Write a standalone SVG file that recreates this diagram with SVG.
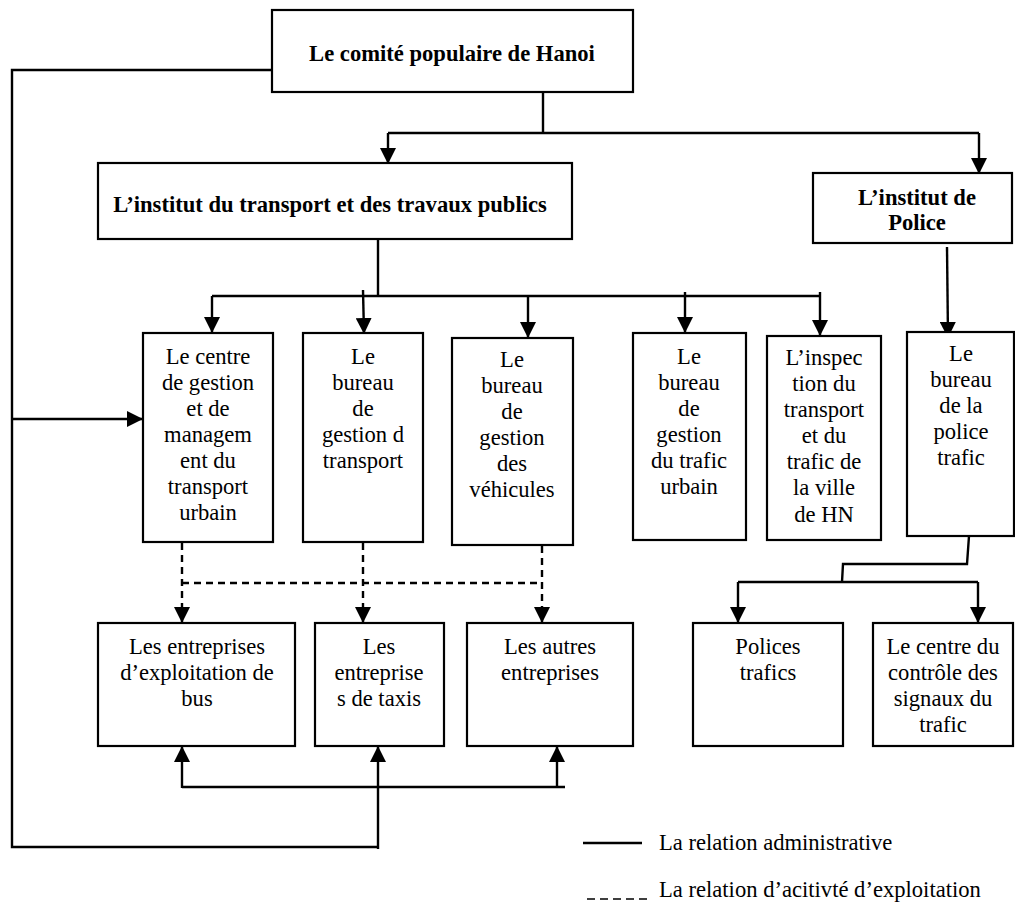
<svg xmlns="http://www.w3.org/2000/svg" width="1015" height="905" viewBox="0 0 1015 905">
<style>
.box{fill:#fff;stroke:#000;stroke-width:2.2}
.t{font-family:"Liberation Serif","Times New Roman",serif;font-size:22.6px;fill:#000;text-anchor:middle}
.b{font-weight:bold}
.l{text-anchor:start}
.c{fill:none;stroke:#000;stroke-width:2.4}
.d{fill:none;stroke:#000;stroke-width:2.4;stroke-dasharray:7,5}
.a{marker-end:url(#ah)}
</style>
<defs>
<marker id="ah" markerUnits="userSpaceOnUse" viewBox="0 0 16 16" refX="16" refY="8" markerWidth="16" markerHeight="16" orient="auto">
<path d="M0,0 L16,8 L0,16 z" fill="#000"/>
</marker>
</defs>
<rect width="1015" height="905" fill="#fff"/>
<g id="connectors">
<polyline class="c" points="272,70 12,70 12,847 378,847"/>
<line class="c a" x1="12" y1="419" x2="143" y2="419"/>
<line class="c a" x1="378" y1="849" x2="378" y2="746"/>
<line class="c" x1="543" y1="92" x2="543" y2="133"/>
<line class="c" x1="388" y1="133" x2="979" y2="133"/>
<line class="c a" x1="388" y1="133" x2="388" y2="164"/>
<line class="c a" x1="979" y1="133" x2="979" y2="174"/>
<line class="c" x1="378" y1="239" x2="378" y2="296"/>
<line class="c" x1="212" y1="296" x2="820" y2="296"/>
<line class="c a" x1="212" y1="296" x2="212" y2="333"/>
<line class="c a" x1="363" y1="290" x2="364" y2="334"/>
<line class="c a" x1="528" y1="296" x2="528" y2="338"/>
<line class="c a" x1="685" y1="292" x2="685" y2="333"/>
<line class="c a" x1="820" y1="292" x2="820" y2="336"/>
<line class="c a" x1="947" y1="247" x2="948" y2="338"/>
<polyline class="c" points="969,536 967,564 843,564 842,582"/>
<line class="c" x1="738" y1="582" x2="978" y2="582"/>
<line class="c a" x1="738" y1="582" x2="738" y2="623"/>
<line class="c a" x1="978" y1="582" x2="978" y2="623"/>
<line class="d a" x1="182" y1="543" x2="182" y2="623"/>
<line class="d a" x1="363" y1="543" x2="363" y2="623"/>
<line class="d a" x1="542" y1="546" x2="542" y2="623"/>
<line class="d" x1="182" y1="583" x2="542" y2="583"/>
<line class="c" x1="182" y1="787" x2="565" y2="787"/>
<line class="c a" x1="182" y1="788" x2="182" y2="746"/>
<line class="c a" x1="557" y1="788" x2="557" y2="746"/>
</g>
<g id="comite">
<rect class="box" x="272" y="10" width="361" height="82"/>
<text class="t b" x="452" y="61">Le comité populaire de Hanoi</text>
</g>
<g id="institut-transport">
<rect class="box" x="98" y="163" width="474" height="76"/>
<text class="t b" x="330" y="212">L’institut du transport et des travaux publics</text>
</g>
<g id="institut-police">
<rect class="box" x="813" y="173" width="199" height="70"/>
<text class="t b" x="917" y="205">L’institut de</text>
<text class="t b" x="917" y="230">Police</text>
</g>
<g id="centre-gestion">
<rect class="box" x="143" y="333" width="130" height="209"/>
<text class="t" x="208" y="364">Le centre</text>
<text class="t" x="208" y="390">de gestion</text>
<text class="t" x="208" y="416">et de</text>
<text class="t" x="208" y="442">managem</text>
<text class="t" x="208" y="468">ent du</text>
<text class="t" x="208" y="494">transport</text>
<text class="t" x="208" y="520">urbain</text>
</g>
<g id="bureau-transport">
<rect class="box" x="303" y="333" width="120" height="209"/>
<text class="t" x="363" y="364">Le</text>
<text class="t" x="363" y="390">bureau</text>
<text class="t" x="363" y="416">de</text>
<text class="t" x="363" y="442">gestion d</text>
<text class="t" x="363" y="468">transport</text>
</g>
<g id="bureau-vehicules">
<rect class="box" x="452" y="338" width="121" height="207"/>
<text class="t" x="512" y="367">Le</text>
<text class="t" x="512" y="393">bureau</text>
<text class="t" x="512" y="419">de</text>
<text class="t" x="512" y="445">gestion</text>
<text class="t" x="512" y="471">des</text>
<text class="t" x="512" y="497">véhicules</text>
</g>
<g id="bureau-trafic">
<rect class="box" x="633" y="333" width="113" height="207"/>
<text class="t" x="689" y="364">Le</text>
<text class="t" x="689" y="390">bureau</text>
<text class="t" x="689" y="416">de</text>
<text class="t" x="689" y="442">gestion</text>
<text class="t" x="689" y="468">du trafic</text>
<text class="t" x="689" y="494">urbain</text>
</g>
<g id="inspection">
<rect class="box" x="767" y="336" width="114" height="204"/>
<text class="t" x="824" y="365">L’inspec</text>
<text class="t" x="824" y="391">tion du</text>
<text class="t" x="824" y="417">transport</text>
<text class="t" x="824" y="443">et du</text>
<text class="t" x="824" y="469">trafic de</text>
<text class="t" x="824" y="495">la ville</text>
<text class="t" x="824" y="522">de HN</text>
</g>
<g id="bureau-police">
<rect class="box" x="907" y="332" width="107" height="204"/>
<text class="t" x="961" y="361">Le</text>
<text class="t" x="961" y="387">bureau</text>
<text class="t" x="961" y="413">de la</text>
<text class="t" x="961" y="439">police</text>
<text class="t" x="961" y="465">trafic</text>
</g>
<g id="entreprises-bus">
<rect class="box" x="98" y="623" width="197" height="123"/>
<text class="t" x="197" y="654">Les entreprises</text>
<text class="t" x="197" y="680">d’exploitation de</text>
<text class="t" x="197" y="706">bus</text>
</g>
<g id="entreprises-taxis">
<rect class="box" x="315" y="623" width="129" height="123"/>
<text class="t" x="379" y="654">Les</text>
<text class="t" x="379" y="680">entreprise</text>
<text class="t" x="379" y="706">s de taxis</text>
</g>
<g id="autres-entreprises">
<rect class="box" x="467" y="623" width="166" height="123"/>
<text class="t" x="550" y="654">Les autres</text>
<text class="t" x="550" y="680">entreprises</text>
</g>
<g id="polices-trafics">
<rect class="box" x="693" y="623" width="150" height="123"/>
<text class="t" x="768" y="654">Polices</text>
<text class="t" x="768" y="680">trafics</text>
</g>
<g id="centre-controle">
<rect class="box" x="873" y="623" width="140" height="123"/>
<text class="t" x="943" y="654">Le centre du</text>
<text class="t" x="943" y="680">contrôle des</text>
<text class="t" x="943" y="706">signaux du</text>
<text class="t" x="943" y="732">trafic</text>
</g>
<g id="legend">
<line class="c" x1="583" y1="843" x2="642" y2="843"/>
<text class="t l" x="659" y="850">La relation administrative</text>
<line x1="587" y1="899" x2="648" y2="899" stroke="#000" stroke-width="1.5" stroke-dasharray="8,5"/>
<text class="t l" x="659" y="897">La relation d’acitivté d’exploitation</text>
</g>
</svg>
